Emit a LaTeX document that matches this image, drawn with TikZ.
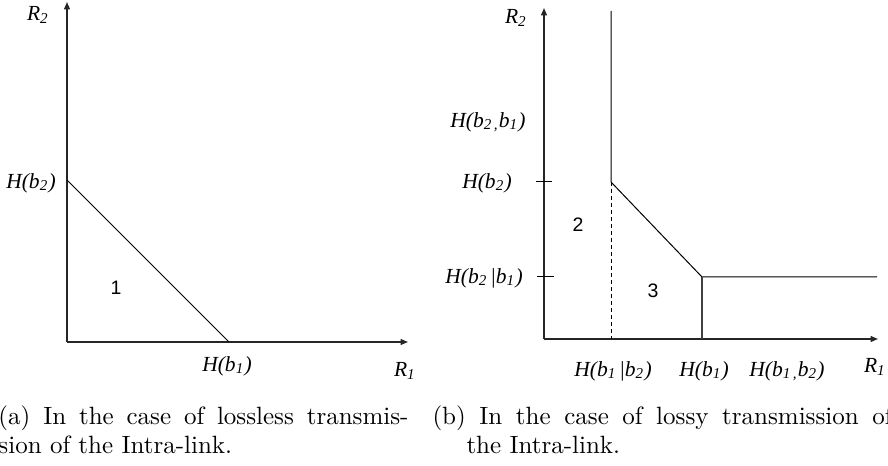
\documentclass[tikz,border=0pt]{standalone}
\usepackage{fontspec}
\newfontfamily\tmsfont{Liberation Serif}
\newfontfamily\arlfont{Liberation Sans}
\usetikzlibrary{arrows.meta}
\tikzset{
  axis/.style={line width=0.5pt, draw=black!85, -{Triangle[length=3pt,width=2.4pt]}},
  curve/.style={line width=0.4pt, draw=black},
  tickline/.style={line width=0.4pt, draw=black},
  lbl/.style={font=\tmsfont\itshape\fontsize{8.6}{10}\selectfont, inner sep=0pt},
  region/.style={font=\arlfont\fontsize{7.8}{9}\selectfont, inner sep=0pt},
  captext/.style={inner sep=0pt, anchor=base west, font=\normalsize}
}
\begin{document}
\begin{tikzpicture}[x=0.4pt,y=-0.4pt]
\useasboundingbox (0,0) rectangle (888,466);
% ---------- panel (a) ----------
\coordinate (aO) at (67,342);
\coordinate (aY) at (67,2);
\coordinate (aX) at (408,342);
\coordinate (aH2) at (67,180);
\coordinate (aH1) at (229,342);
\draw[axis] (aO) -- (aY);
\draw[axis] (aO) -- (aX);
\draw[curve] (aH2) -- (aH1);
\node[lbl] (aR2) at (38,15) {R\textsubscript{2}};
\node[lbl] (aLH2) at (31,183) {H(b\textsubscript{2})};
\node[region] (a1) at (116,288) {1};
\node[lbl] (aLH1) at (227,366) {H(b\textsubscript{1})};
\node[lbl] (aR1) at (405,371) {R\textsubscript{1}};
% ---------- panel (b) ----------
\coordinate (bO) at (544,339);
\coordinate (bY) at (544,8);
\coordinate (bX) at (878,339);
\coordinate (bTop) at (611,11);
\coordinate (bA) at (611,182);
\coordinate (bAb) at (611,339);
\coordinate (bB) at (702,277);
\coordinate (bBb) at (702,339);
\coordinate (bE) at (877,277);
\coordinate (t1l) at (536,182);
\coordinate (t1r) at (552,182);
\coordinate (t2l) at (537,277);
\coordinate (t2r) at (554,277);
\draw[axis] (bO) -- (bY);
\draw[axis] (bO) -- (bX);
\draw[curve] (bTop) -- (bA) -- (bB) -- (bE);
\draw[curve, dash pattern=on 1.6pt off 1.2pt] (bA) -- (bAb);
\draw[curve, draw=black!75, line width=0.5pt] (bB) -- (bBb);
\draw[tickline] (t1l) -- (t1r);
\draw[tickline] (t2l) -- (t2r);
\node[lbl] (bR2) at (516,18) {R\textsubscript{2}};
\node[lbl] (bLH21) at (488,122) {H(b\textsubscript{2\,,}b\textsubscript{1})};
\node[lbl] (bLH2) at (487,183) {H(b\textsubscript{2})};
\node[lbl] (bLH2g1) at (484,278) {H(b\textsubscript{2\,}|b\textsubscript{1})};
\node[region] (b2) at (578,225) {2};
\node[region] (b3) at (653,291) {3};
\node[lbl] (bLH1g2) at (613,371) {H(b\textsubscript{1\,}|b\textsubscript{2})};
\node[lbl] (bLH1) at (704,371) {H(b\textsubscript{1})};
\node[lbl] (bLH12) at (787,371) {H(b\textsubscript{1\,,}b\textsubscript{2})};
\node[lbl] (bR1) at (875,367) {R\textsubscript{1}};
% ---------- captions ----------
\node[captext] (capa1) at (-2,424) {\makebox[164pt][s]{(a) In the case of lossless transmis-}};
\node[captext] (capa2) at (-2,454) {sion of the Intra-link.};
\node[captext] (capb1) at (432,424) {\makebox[184pt][s]{(b) In the case of lossy transmission of}};
\node[captext] (capb2) at (466,454) {the Intra-link.};
\end{tikzpicture}
\end{document}
